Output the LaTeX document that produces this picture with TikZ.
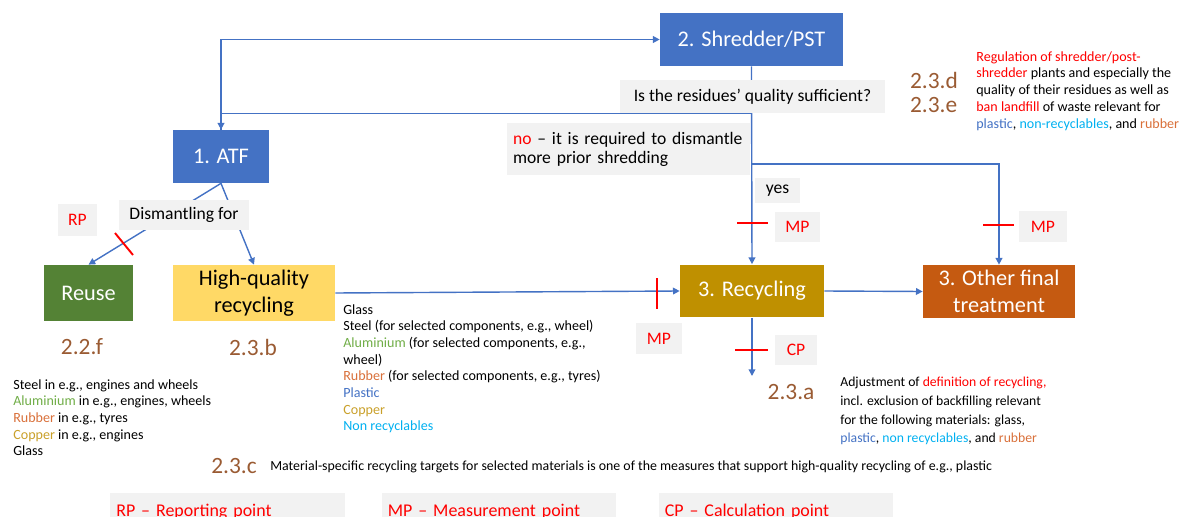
\documentclass[tikz,border=0pt]{standalone}
\usepackage{fontspec}
\setmainfont{Carlito}
\usetikzlibrary{arrows.meta,backgrounds}
\definecolor{boxblue}{HTML}{4472C4}
\definecolor{lineblue}{HTML}{4472C4}
\definecolor{reusegreen}{HTML}{548235}
\definecolor{hqyellow}{HTML}{FFD966}
\definecolor{recgold}{HTML}{BF9000}
\definecolor{otherorange}{HTML}{C55A11}
\definecolor{notegray}{HTML}{F2F2F2}
\definecolor{refbrown}{HTML}{9A5B33}
\definecolor{txtblue}{HTML}{4472C4}
\definecolor{nonrec}{HTML}{00B0F0}
\definecolor{alu}{HTML}{70AD47}
\definecolor{rubber}{HTML}{D9703A}
\definecolor{copper}{HTML}{C9A02A}

\begin{document}
\begin{tikzpicture}[x=0.02cm,y=-0.02cm,
   stage/.style={rectangle,inner sep=1pt,minimum height=1.06cm,align=center,text=white,font=\fontsize{12.7}{15.3}\selectfont},
   note/.style={fill=notegray,align=center,font=\fontsize{10}{10.8}\selectfont},
   tag/.style={fill=notegray,text=red,minimum width=0.9cm,minimum height=0.62cm,font=\fontsize{10}{12}\selectfont},
   secref/.style={text=refbrown,align=left,font=\fontsize{13.3}{14}\selectfont},
   small/.style={anchor=north west,align=left,inner sep=0pt,font=\fontsize{8}{9.5}\selectfont},
   legend/.style={fill=notegray,text=red,minimum height=0.76cm,text width=4.45cm,align=left,font=\fontsize{10.2}{12}\selectfont},
   flow/.style={draw=lineblue,line width=0.8pt,-{Triangle[length=3.8pt,width=3.8pt]}},
   redtick/.style={draw=red,line width=1.1pt}]
   \useasboundingbox (0,0) rectangle (1184,517);

   \node[stage,fill=boxblue,minimum width=3.66cm] (shred) at (751.5,39.5) {2. Shredder/PST};
   \node[stage,fill=boxblue,minimum width=1.92cm] (atf) at (221,156.5) {1. ATF};
   \node[stage,fill=reusegreen,minimum width=1.78cm,minimum height=1.12cm] (reuse) at (88.5,293) {Reuse};
   \node[stage,fill=hqyellow,text=black,minimum width=3.24cm,minimum height=1.12cm] (hq) at (254,293) {High-quality\\recycling};
   \node[stage,fill=recgold,minimum width=2.88cm] (rec) at (752,291) {3. Recycling};
   \node[stage,fill=otherorange,minimum width=3.04cm] (other) at (999,291.5) {3. Other final\\treatment};

   \node[note,minimum width=5.3cm,minimum height=0.66cm] (quest) at (752.5,96.5) {Is the residues' quality sufficient?};
   \node[note,text width=4.62cm,align=left,minimum height=1.04cm] (nobox) at (628.5,149) {\textcolor{red}{no} -- it is required to dismantle\\more prior shredding};
   \node[note,minimum width=0.9cm,minimum height=0.5cm] (yes) at (777.5,190.5) {yes};
   \node[note,minimum width=2.6cm,minimum height=0.6cm] (dism) at (184,215) {Dismantling for};

   \node[tag,minimum width=0.78cm,minimum height=0.64cm] (rp) at (77.5,220) {RP};
   \node[tag] (mpa) at (797.5,227) {MP};
   \node[tag,minimum width=0.96cm] (mpb) at (1043,226.5) {MP};
   \node[tag,minimum width=0.92cm] (mpc) at (659,338.5) {MP};
   \node[tag,minimum width=0.84cm] (cp) at (796,350) {CP};

   \node[secref] (ref22f) at (82,347) {2.2.f};
   \node[secref] (ref23b) at (253,347) {2.3.b};
   \node[secref] (ref23a) at (791,392) {2.3.a};
   \node[secref] (ref23c) at (234,466) {2.3.c};
   \node[secref] (ref23de) at (934,92.5) {2.3.d\\2.3.e};

   \node[small,font=\fontsize{8}{9.6}\selectfont] (txtd) at (976,51)
      {\textcolor{red}{Regulation of shredder/post-}\\\textcolor{red}{shredder} plants and especially the\\quality of their residues as well as\\\textcolor{red}{ban landfill} of waste relevant for\\\textcolor{txtblue}{plastic}, \textcolor{nonrec}{non-recyclables}, and \textcolor{rubber}{rubber}};
   \node[small] (txtl) at (13,379)
      {Steel in e.g., engines and wheels\\\textcolor{alu}{Aluminium} in e.g., engines, wheels\\\textcolor{rubber}{Rubber} in e.g., tyres\\\textcolor{copper}{Copper} in e.g., engines\\Glass};
   \node[small] (txtm) at (343,304)
      {Glass\\Steel (for selected components, e.g., wheel)\\\textcolor{alu}{Aluminium} (for selected components, e.g.,\\wheel)\\\textcolor{rubber}{Rubber} (for selected components, e.g., tyres)\\\textcolor{txtblue}{Plastic}\\\textcolor{copper}{Copper}\\\textcolor{nonrec}{Non recyclables}};
   \node[small,font=\fontsize{7.8}{10.6}\selectfont] (txtr) at (840,377)
      {Adjustment of \textcolor{red}{definition of recycling,}\\incl. exclusion of backfilling relevant\\for the following materials: glass,\\\textcolor{txtblue}{plastic}, \textcolor{nonrec}{non recyclables}, and \textcolor{rubber}{rubber}};
   \node[small,anchor=base west,font=\fontsize{7.9}{9}\selectfont] (txtc) at (270,470)
      {Material-specific recycling targets for selected materials is one of the measures that support high-quality recycling of e.g., plastic};

   \node[legend] (lgrp) at (227.5,512) {RP -- Reporting point};
   \node[legend] (lgmp) at (499,512) {MP -- Measurement point};
   \node[legend] (lgcp) at (776,512) {CP -- Calculation point};

   \coordinate (nofork) at (752,164);
   \coordinate (outflow) at (752,376);

   \begin{scope}[on background layer]
      \draw[flow] (atf.north) -- (atf.north |- shred.west) -- (shred.west);
      \draw[flow] (shred.south) -- (rec.north);
      \draw[flow] (shred.south |- quest.south) -| (atf.north);
      \draw[flow] (nofork) -| (other.north);
      \draw[flow] (atf.south) -- (reuse.north);
      \draw[flow] (atf.south) -- (hq.north);
      \draw[flow] (hq.east) -- (rec.west);
      \draw[flow] (rec.east) -- (other.west);
      \draw[flow] (rec.south) -- (outflow);
   \end{scope}

   \draw[redtick] (737,223) -- (768,223);
   \draw[redtick] (983,225) -- (1014,225);
   \draw[redtick] (657,278) -- (657,309);
   \draw[redtick] (735,350) -- (768,350);
   \draw[redtick] (115,233) -- (133,255);
\end{tikzpicture}
\end{document}
